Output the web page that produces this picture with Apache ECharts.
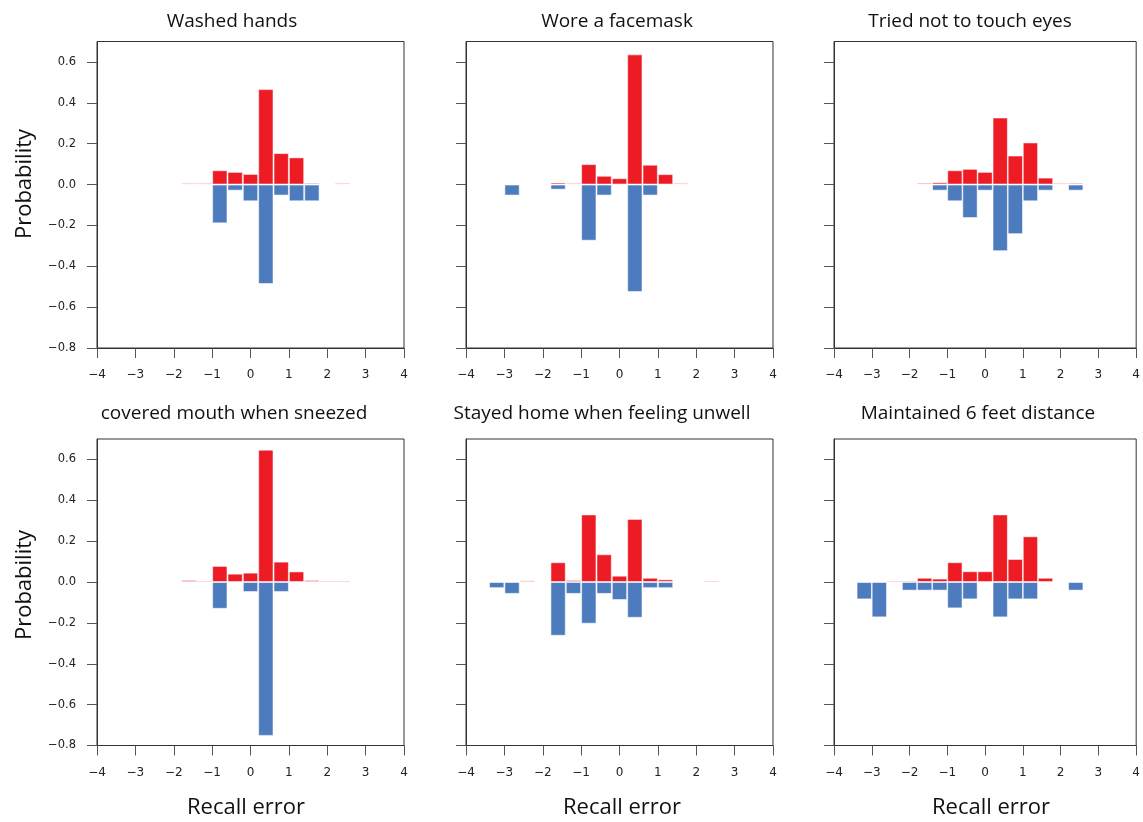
<!DOCTYPE html>
<html><head><meta charset="utf-8">
<script src="https://cdn.jsdelivr.net/npm/echarts@6/dist/echarts.min.js"></script>
<style>html,body{margin:0;padding:0;background:#fff}#c{width:1143px;height:822px}</style>
</head><body><div id="c"></div>
<script>
// ---- data ----
const bins = [-3.2,-2.8,-2.4,-2.0,-1.6,-1.2,-0.8,-0.4,0,0.4,0.8,1.2,1.6,2.0,2.4];
const titles = ["Washed hands","Wore a facemask","Tried not to touch eyes","covered mouth when sneezed","Stayed home when feeling unwell","Maintained 6 feet distance"];
const xTicks = [-4,-3,-2,-1,0,1,2,3,4];
const yTicks = [-0.8,-0.6,-0.4,-0.2,0,0.2,0.4,0.6];
const redWashed   = [null,null,null,null,0.002,0.004,0.070,0.062,0.052,0.467,0.154,0.133,0.008,null,0.004];
const blueWashed  = [null,null,null,null,null,null,-0.190,-0.030,-0.082,-0.487,-0.054,-0.082,-0.082,null,null];
const redMask     = [null,null,null,null,0.010,0.003,0.100,0.043,0.031,0.637,0.097,0.051,0.004,null,null];
const blueMask    = [null,-0.054,null,null,-0.025,null,-0.275,-0.054,null,-0.526,-0.054,null,null,null,null];
const redEyes     = [null,null,null,null,0.008,0.011,0.070,0.077,0.062,0.328,0.142,0.206,0.034,0.003,0.008];
const blueEyes    = [null,null,null,null,null,-0.030,-0.082,-0.164,-0.030,-0.326,-0.243,-0.082,-0.030,null,-0.030];
const redMouth    = [null,null,null,null,0.010,0.003,0.079,0.041,0.046,0.648,0.100,0.052,0.010,0.003,0.003];
const blueMouth   = [null,null,null,null,null,null,-0.131,null,-0.049,-0.753,-0.049,null,null,null,null];
const redHome     = [null,null,0.008,null,0.097,0.010,0.331,0.136,0.031,0.309,0.021,0.013,null,null,0.005];
const blueHome    = [-0.030,-0.058,null,null,-0.263,-0.058,-0.204,-0.058,-0.088,-0.175,-0.030,-0.030,null,null,null];
const redDist     = [null,null,0.005,0.007,0.021,0.017,0.097,0.053,0.053,0.331,0.113,0.224,0.021,null,null];
const blueDist    = [-0.085,-0.173,null,-0.042,-0.042,-0.042,-0.129,-0.085,null,-0.173,-0.085,-0.085,null,null,-0.042];

const reds  = [redWashed, redMask, redEyes, redMouth, redHome, redDist];
const blues = [blueWashed, blueMask, blueEyes, blueMouth, blueHome, blueDist];

// ---- layout ----
const colLeft = [97, 466, 834];
const rowTop = [41.5, 439];
const gw = 307, gh = 306.5;
const titleX = [232, 617, 970, 234, 602, 978];
const titleY = [22, 22, 22, 414, 414, 414];
const recallX = [246, 622, 991];

const RED = '#ED1C24', BLUE = '#4C7BBE';
const minus = v => String(v).replace('-', '\u2212');

const grids = [], xAxes = [], yAxes = [], series = [], graphics = [];
for (let i = 0; i < 6; i++) {
  const r = Math.floor(i / 3), c = i % 3;
  grids.push({left: colLeft[c], top: rowTop[r], width: gw, height: gh, show: true,
    borderColor: '#333', borderWidth: 1, backgroundColor: 'transparent', containLabel: false});
  xAxes.push({type: 'value', gridIndex: i, min: -4, max: 4, interval: 1,
    splitLine: {show: false},
    axisLine: {show: true, onZero: false, lineStyle: {color: '#333', width: 1}},
    axisTick: {show: true, length: 10, lineStyle: {color: '#555'}},
    axisLabel: {margin: 21, fontSize: 12, color: '#222', fontFamily: 'DejaVu Sans', formatter: minus}});
  yAxes.push({type: 'value', gridIndex: i, min: -0.8, max: 0.7,
    splitLine: {show: false},
    axisLine: {show: true, onZero: false, lineStyle: {color: '#333', width: 1}},
    axisTick: {show: true, length: 10, customValues: yTicks, lineStyle: {color: '#555'}},
    axisLabel: {show: c === 0, customValues: yTicks, margin: 21, fontSize: 11.5, color: '#222', fontFamily: 'DejaVu Sans',
      formatter: v => minus((Math.round(v * 10) / 10).toFixed(1))}});
  const item = {borderColor: 'rgba(255,255,255,0.55)', borderWidth: 1};
  series.push({type: 'bar', xAxisIndex: i, yAxisIndex: i, barWidth: 15.35, barGap: '-100%', barMinHeight: 1.5,
    data: bins.map((b, k) => [b, reds[i][k]]), itemStyle: Object.assign({color: RED}, item), silent: true, animation: false});
  series.push({type: 'bar', xAxisIndex: i, yAxisIndex: i, barWidth: 15.35, barGap: '-100%', barMinHeight: 1.5,
    data: bins.map((b, k) => [b, blues[i][k]]), itemStyle: Object.assign({color: BLUE}, item), silent: true, animation: false});
  graphics.push({type: 'text', x: titleX[i], y: titleY[i],
    style: {text: titles[i], font: '19px "Open Sans"', fill: '#111', textAlign: 'center', textVerticalAlign: 'middle'}});
}
for (let r = 0; r < 2; r++) {
  graphics.push({type: 'text', x: 25, y: [184, 585][r], rotation: Math.PI / 2,
    style: {text: 'Probability', font: '22px "Open Sans"', fill: '#111', textAlign: 'center', textVerticalAlign: 'middle'}});
}
for (let c = 0; c < 3; c++) {
  graphics.push({type: 'text', x: recallX[c], y: 808,
    style: {text: 'Recall error', font: '22px "Open Sans"', fill: '#111', textAlign: 'center', textVerticalAlign: 'middle'}});
}

const chart = echarts.init(document.getElementById('c'), null, {renderer: 'canvas'});
chart.setOption({animation: false, grid: grids, xAxis: xAxes, yAxis: yAxes, series: series, graphic: graphics});
</script></body></html>
